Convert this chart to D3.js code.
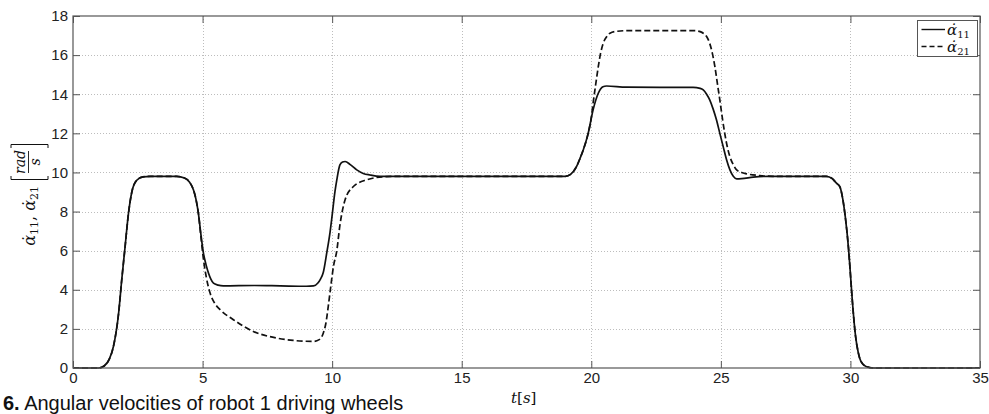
<!DOCTYPE html>
<html>
<head>
<meta charset="utf-8">
<script src="https://cdn.jsdelivr.net/npm/d3@7"></script>
<style>
  body { margin: 0; background: #fff; }
  svg { display: block; }
</style>
</head>
<body>
<svg id="chart" width="989" height="414"></svg>
<script>
// time samples (s) and wheel speeds (rad/s)
const alpha11 = [
  [0, 0], [1.0, 0], [1.2, 0.1], [1.4, 0.45], [1.56, 1.1], [1.76, 2.8], [1.88, 4.5],
  [2.01, 6.2], [2.14, 7.9], [2.27, 9.0], [2.46, 9.6], [2.7, 9.77], [3.0, 9.8],
  [4.0, 9.8], [4.3, 9.72], [4.5, 9.5], [4.65, 9.1], [4.75, 8.6], [4.84, 7.9],
  [4.93, 6.9], [5.03, 5.9], [5.13, 5.3], [5.23, 4.85], [5.32, 4.55], [5.42, 4.34],
  [5.6, 4.24], [5.8, 4.2], [7.0, 4.22], [8.0, 4.2], [9.0, 4.18], [9.28, 4.2],
  [9.45, 4.35], [9.55, 4.55], [9.66, 4.9], [9.79, 5.87], [9.92, 6.95], [9.98, 7.58],
  [10.11, 9.03], [10.18, 9.62], [10.3, 10.39], [10.4, 10.53], [10.5, 10.56],
  [10.7, 10.4], [10.95, 10.13], [11.2, 9.95], [11.46, 9.87], [11.85, 9.8],
  [19.0, 9.8], [19.2, 9.9], [19.43, 10.3], [19.56, 10.7], [19.69, 11.15],
  [19.88, 12.0], [20.07, 13.2], [20.27, 14.05], [20.45, 14.38], [20.59, 14.42],
  [21.36, 14.36], [23.93, 14.35], [24.2, 14.3], [24.32, 14.22], [24.45, 14.0],
  [24.57, 13.71], [24.7, 13.25], [24.83, 12.69], [24.96, 12.0], [25.09, 11.32],
  [25.22, 10.65], [25.35, 10.13], [25.48, 9.8], [25.61, 9.67], [25.8, 9.68],
  [26.25, 9.76], [26.8, 9.8], [29.07, 9.8], [29.3, 9.68], [29.46, 9.45],
  [29.59, 9.28], [29.71, 8.6], [29.8, 7.75], [29.93, 6.05], [30.0, 4.8],
  [30.07, 3.5], [30.2, 1.6], [30.3, 0.8], [30.4, 0.35], [30.6, 0.08], [30.9, 0],
  [35, 0]
];

const alpha21 = [
  [0, 0], [1.0, 0], [1.2, 0.1], [1.4, 0.45], [1.56, 1.1], [1.76, 2.8], [1.88, 4.5],
  [2.01, 6.2], [2.14, 7.9], [2.27, 9.0], [2.46, 9.6], [2.7, 9.77], [3.0, 9.8],
  [4.0, 9.8], [4.3, 9.72], [4.5, 9.5], [4.65, 9.1], [4.75, 8.6], [4.84, 7.9],
  [4.93, 6.8], [5.03, 5.6], [5.15, 4.6], [5.29, 3.83], [5.45, 3.35], [5.68, 2.98],
  [6.19, 2.47], [6.96, 1.87], [7.86, 1.53], [8.5, 1.41], [9.28, 1.36], [9.5, 1.45],
  [9.66, 1.79], [9.76, 2.3], [9.85, 3.15], [9.95, 4.2], [10.05, 5.19], [10.18, 6.0],
  [10.3, 7.3], [10.5, 8.6], [10.82, 9.28], [11.33, 9.62], [12.1, 9.79], [12.5, 9.8],
  [19.0, 9.8], [19.2, 9.9], [19.43, 10.3], [19.56, 10.7], [19.69, 11.15],
  [19.88, 12.0], [20.0, 12.8], [20.07, 13.54], [20.17, 14.5], [20.27, 15.41],
  [20.36, 16.1], [20.46, 16.6], [20.6, 16.95], [20.72, 17.12], [21.0, 17.22],
  [21.36, 17.25], [24.0, 17.25], [24.2, 17.2], [24.32, 17.12], [24.45, 16.95],
  [24.57, 16.6], [24.67, 16.1], [24.77, 15.41], [24.86, 14.6], [24.96, 13.71],
  [25.05, 12.85], [25.15, 12.0], [25.25, 11.3], [25.35, 10.8], [25.48, 10.4],
  [25.61, 10.13], [25.8, 10.0], [25.99, 9.93], [26.5, 9.84], [27.0, 9.8],
  [29.07, 9.8], [29.3, 9.68], [29.46, 9.45], [29.59, 9.28], [29.71, 8.6],
  [29.8, 7.75], [29.93, 6.05], [30.0, 4.8], [30.07, 3.5], [30.2, 1.6], [30.3, 0.8],
  [30.4, 0.35], [30.6, 0.08], [30.9, 0], [35, 0]
];

const xTicks = [0, 5, 10, 15, 20, 25, 30, 35];
const yTicks = [0, 2, 4, 6, 8, 10, 12, 14, 16, 18];
const caption = 'Angular velocities of robot 1 driving wheels';

const svg = d3.select('#chart');
const plotLeft = 73, plotRight = 980, plotTop = 16, plotBottom = 368;

const x = d3.scaleLinear().domain([0, 35]).range([plotLeft, plotRight]);
const y = d3.scaleLinear().domain([0, 18]).range([plotBottom, plotTop]);

const sans = '"Liberation Sans", Arial, Helvetica, sans-serif';
const serif = '"DejaVu Serif", "Liberation Serif", serif';

// dotted grid
const grid = svg.append('g').attr('stroke', '#bdbdbd').attr('stroke-width', 1).attr('stroke-dasharray', '1,2');
grid.selectAll('line.v')
  .data(xTicks.filter(d => d > 0 && d < 35))
  .enter().append('line')
  .attr('x1', d => Math.round(x(d)) + 0.5).attr('x2', d => Math.round(x(d)) + 0.5)
  .attr('y1', plotTop).attr('y2', plotBottom);
grid.selectAll('line.h')
  .data(yTicks.filter(d => d > 0 && d < 18))
  .enter().append('line')
  .attr('x1', plotLeft).attr('x2', plotRight)
  .attr('y1', d => Math.round(y(d)) + 0.5).attr('y2', d => Math.round(y(d)) + 0.5);

// curves
const line = d3.line()
  .x(d => x(d[0]))
  .y(d => y(d[1]))
  .curve(d3.curveMonotoneX);

svg.append('path')
  .attr('d', line(alpha21))
  .attr('fill', 'none')
  .attr('stroke', '#111')
  .attr('stroke-width', 1.7)
  .attr('stroke-dasharray', '6,3');

svg.append('path')
  .attr('d', line(alpha11))
  .attr('fill', 'none')
  .attr('stroke', '#111')
  .attr('stroke-width', 1.7);

// axes (matlab style, ticks inward on all four sides)
const styleAxis = g => {
  g.select('.domain').remove();
  g.selectAll('.tick line').attr('stroke', '#555');
  g.selectAll('.tick text').attr('fill', '#222').style('font-family', sans).style('font-size', '15px');
};

svg.append('g')
  .attr('transform', `translate(0,${plotBottom})`)
  .call(d3.axisBottom(x).tickValues(xTicks).tickSize(-7).tickPadding(4))
  .call(styleAxis);

svg.append('g')
  .attr('transform', `translate(0,${plotTop})`)
  .call(d3.axisTop(x).tickValues(xTicks).tickSize(-7).tickFormat(''))
  .call(styleAxis);

svg.append('g')
  .attr('transform', `translate(${plotLeft},0)`)
  .call(d3.axisLeft(y).tickValues(yTicks).tickSize(-7).tickPadding(5))
  .call(styleAxis);

svg.append('g')
  .attr('transform', `translate(${plotRight},0)`)
  .call(d3.axisRight(y).tickValues(yTicks).tickSize(-7).tickFormat(''))
  .call(styleAxis);

svg.append('rect')
  .attr('x', plotLeft).attr('y', plotTop)
  .attr('width', plotRight - plotLeft).attr('height', plotBottom - plotTop)
  .attr('fill', 'none').attr('stroke', '#555').attr('stroke-width', 1.2);

// legend
const legend = svg.append('g');
legend.append('rect')
  .attr('x', 917.5).attr('y', 20.5).attr('width', 60).attr('height', 36)
  .attr('fill', '#fff').attr('stroke', '#555').attr('stroke-width', 1);

const legendItems = [
  { sub: '11', dash: null, ly: 29.5, ty: 35 },
  { sub: '21', dash: '5,3', ly: 46.5, ty: 52 }
];
legendItems.forEach(it => {
  legend.append('line')
    .attr('x1', 921.5).attr('x2', 945).attr('y1', it.ly).attr('y2', it.ly)
    .attr('stroke', '#111').attr('stroke-width', 1.4)
    .attr('stroke-dasharray', it.dash);
  const t = legend.append('text')
    .attr('x', 947).attr('y', it.ty)
    .style('font-family', serif).style('font-size', '15px').attr('fill', '#111');
  t.append('tspan').style('font-style', 'italic').text('\u03B1\u0307');
  t.append('tspan').attr('dy', 3).style('font-size', '10px').text(it.sub);
});

// y label: rotated  α̇11, α̇21 [rad/s]
const yl = svg.append('g').attr('transform', 'translate(30,197) rotate(-90)').attr('fill', '#111');
const ya = yl.append('text')
  .attr('x', 11).attr('y', 5).attr('text-anchor', 'end')
  .style('font-family', serif).style('font-size', '16px');
ya.append('tspan').style('font-style', 'italic').text('\u03B1\u0307');
ya.append('tspan').attr('dy', 3).style('font-size', '11px').text('11');
ya.append('tspan').attr('dy', -3).text(', ');
ya.append('tspan').style('font-style', 'italic').text('\u03B1\u0307');
ya.append('tspan').attr('dy', 3).style('font-size', '11px').text('21');

yl.append('text')
  .attr('x', 35).attr('y', -5).attr('text-anchor', 'middle')
  .style('font-family', serif).style('font-style', 'italic').style('font-size', '14px')
  .text('rad');
yl.append('line')
  .attr('x1', 24).attr('x2', 46).attr('y1', -1.5).attr('y2', -1.5)
  .attr('stroke', '#111').attr('stroke-width', 0.9);
yl.append('text')
  .attr('x', 35).attr('y', 10).attr('text-anchor', 'middle')
  .style('font-family', serif).style('font-style', 'italic').style('font-size', '14px')
  .text('s');
yl.append('path')
  .attr('d', 'M21,-19 L17.5,-19 L17.5,18 L21,18 M49,-19 L52.5,-19 L52.5,18 L49,18')
  .attr('fill', 'none').attr('stroke', '#111').attr('stroke-width', 1);

// x label: t [s]
const xl = svg.append('text')
  .attr('x', 511).attr('y', 403)
  .style('font-family', serif).style('font-size', '15px').attr('fill', '#111');
xl.append('tspan').style('font-style', 'italic').text('t');
xl.append('tspan').text('[');
xl.append('tspan').style('font-style', 'italic').text('s');
xl.append('tspan').text(']');

// caption at the bottom edge
const cap = svg.append('text')
  .attr('x', 3).attr('y', 410)
  .style('font-family', sans).style('font-size', '20px').attr('fill', '#111');
cap.append('tspan').style('font-weight', 'bold').text('6.');
cap.append('tspan').text(' ' + caption);
</script>
</body>
</html>
